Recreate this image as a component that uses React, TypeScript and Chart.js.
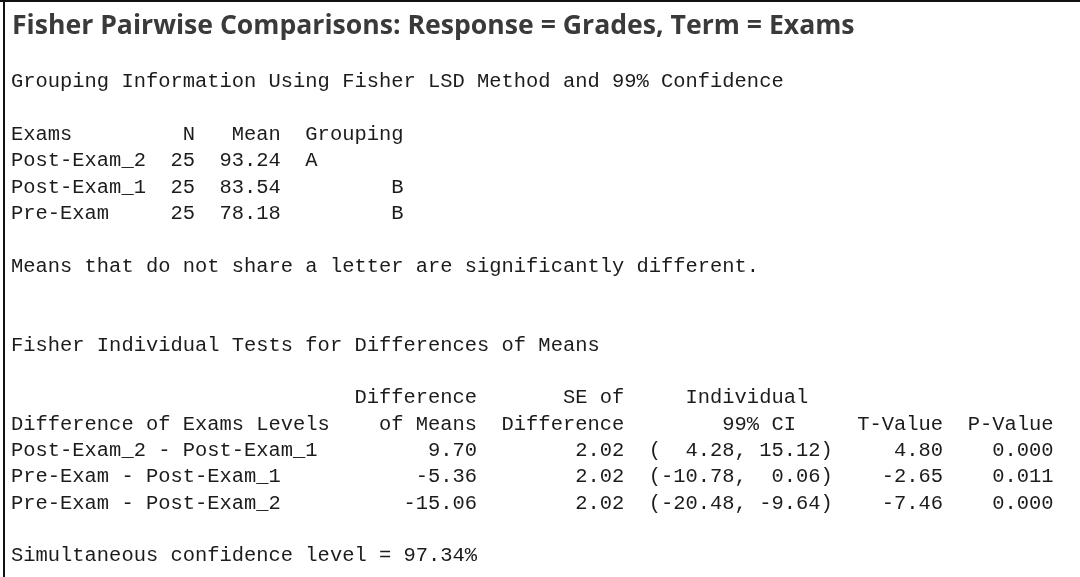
import React, { useEffect, useRef } from 'react';
import { Chart, registerables } from 'chart.js';

Chart.register(...registerables);

// ---- data ----
const responseName = 'Grades';
const termName = 'Exams';
const confidencePct = 99;
const simultaneousPct = 97.34;

const exams = ['Post-Exam_2', 'Post-Exam_1', 'Pre-Exam'];
const counts = [25, 25, 25];
const means = [93.24, 83.54, 78.18];
const groupings = ['A', 'B', 'B'];

const diffLabels = ['Post-Exam_2 - Post-Exam_1', 'Pre-Exam - Post-Exam_1', 'Pre-Exam - Post-Exam_2'];
const diffMeans = [9.7, -5.36, -15.06];
const seDiffs = [2.02, 2.02, 2.02];
const ciLower = [4.28, -10.78, -20.48];
const ciUpper = [15.12, 0.06, -9.64];
const tValues = [4.8, -2.65, -7.46];
const pValues = [0.0, 0.011, 0.0];

// ---- layout (character columns of the fixed-width session output) ----
const LINE_W = 86;
const groupCols: Record<string, number> = { A: 24, B: 31 };

function blank(): string[] {
  return Array(LINE_W).fill(' ');
}
function putL(a: string[], col: number, s: string) {
  for (let i = 0; i < s.length; i++) a[col + i] = s[i];
}
function putR(a: string[], endCol: number, s: string) {
  putL(a, endCol - s.length, s);
}
function done(a: string[]) {
  return a.join('').replace(/\s+$/, '');
}

function buildLines(): string[] {
  const lines: string[] = [];
  lines.push(`Grouping Information Using Fisher LSD Method and ${confidencePct}% Confidence`);
  lines.push('');
  let h = blank();
  putL(h, 0, termName);
  putR(h, 15, 'N');
  putR(h, 22, 'Mean');
  putL(h, 24, 'Grouping');
  lines.push(done(h));
  exams.forEach((e, i) => {
    const r = blank();
    putL(r, 0, e);
    putR(r, 15, String(counts[i]));
    putR(r, 22, means[i].toFixed(2));
    putL(r, groupCols[groupings[i]], groupings[i]);
    lines.push(done(r));
  });
  lines.push('');
  lines.push('Means that do not share a letter are significantly different.');
  lines.push('');
  lines.push('');
  lines.push('Fisher Individual Tests for Differences of Means');
  lines.push('');
  const h1 = blank();
  putR(h1, 38, 'Difference');
  putR(h1, 50, 'SE of');
  putL(h1, 55, 'Individual');
  lines.push(done(h1));
  const h2 = blank();
  putL(h2, 0, `Difference of ${termName} Levels`);
  putR(h2, 38, 'of Means');
  putR(h2, 50, 'Difference');
  putL(h2, 58, `${confidencePct}% CI`);
  putR(h2, 76, 'T-Value');
  putR(h2, 85, 'P-Value');
  lines.push(done(h2));
  diffLabels.forEach((lab, i) => {
    const r = blank();
    putL(r, 0, lab);
    putR(r, 38, diffMeans[i].toFixed(2));
    putR(r, 50, seDiffs[i].toFixed(2));
    putL(r, 52, '(' + ciLower[i].toFixed(2).padStart(6) + ', ' + ciUpper[i].toFixed(2).padStart(5) + ')');
    putR(r, 76, tValues[i].toFixed(2));
    putR(r, 85, pValues[i].toFixed(3));
    lines.push(done(r));
  });
  lines.push('');
  lines.push(`Simultaneous confidence level = ${simultaneousPct.toFixed(2)}%`);
  return lines;
}

const TITLE = `Fisher Pairwise Comparisons: Response = ${responseName}, Term = ${termName}`;

const sessionPlugin = {
  id: 'sessionText',
  beforeDraw(chart: any) {
    const ctx = chart.ctx as CanvasRenderingContext2D;
    ctx.save();
    ctx.fillStyle = '#ffffff';
    ctx.fillRect(0, 0, chart.width, chart.height);
    ctx.restore();
  },
  afterDraw(chart: any) {
    const ctx = chart.ctx as CanvasRenderingContext2D;
    ctx.save();
    // frame
    ctx.fillStyle = '#111111';
    ctx.fillRect(0, 0, chart.width, 2);
    ctx.fillRect(3, 0, 2, chart.height);

    // title, sized to its measured width
    ctx.textBaseline = 'alphabetic';
    ctx.textAlign = 'left';
    ctx.font = 'bold 100px "Open Sans"';
    const w100 = ctx.measureText(TITLE).width;
    const size = (100 * 843) / w100;
    ctx.font = `bold ${size}px "Open Sans"`;
    ctx.fillStyle = '#3a3a3a';
    ctx.fillText(TITLE, 12, 33.5);

    // body
    ctx.font = '20.45px "Liberation Mono"';
    ctx.fillStyle = '#1c1c1c';
    const lines = buildLines();
    lines.forEach((ln, i) => {
      if (ln) ctx.fillText(ln, 11, 87.3 + i * 26.33);
    });
    ctx.restore();
  },
};

export default function App() {
  const ref = useRef<HTMLCanvasElement | null>(null);
  useEffect(() => {
    if (!ref.current) return;
    const chart = new Chart(ref.current, {
      type: 'bar',
      data: { labels: [], datasets: [] },
      options: {
        responsive: false,
        animation: false,
        devicePixelRatio: 1,
        plugins: {
          legend: { display: false },
          title: { display: false },
          tooltip: { enabled: false },
        },
        scales: {
          x: { display: false },
          y: { display: false },
        },
      },
      plugins: [sessionPlugin],
    });
    return () => chart.destroy();
  }, []);
  return (
    <div style={{ position: 'fixed', left: 0, top: 0, width: 1080, height: 577, background: '#fff' }}>
      <canvas ref={ref} width={1080} height={577} style={{ display: 'block', width: 1080, height: 577 }} />
    </div>
  );
}
